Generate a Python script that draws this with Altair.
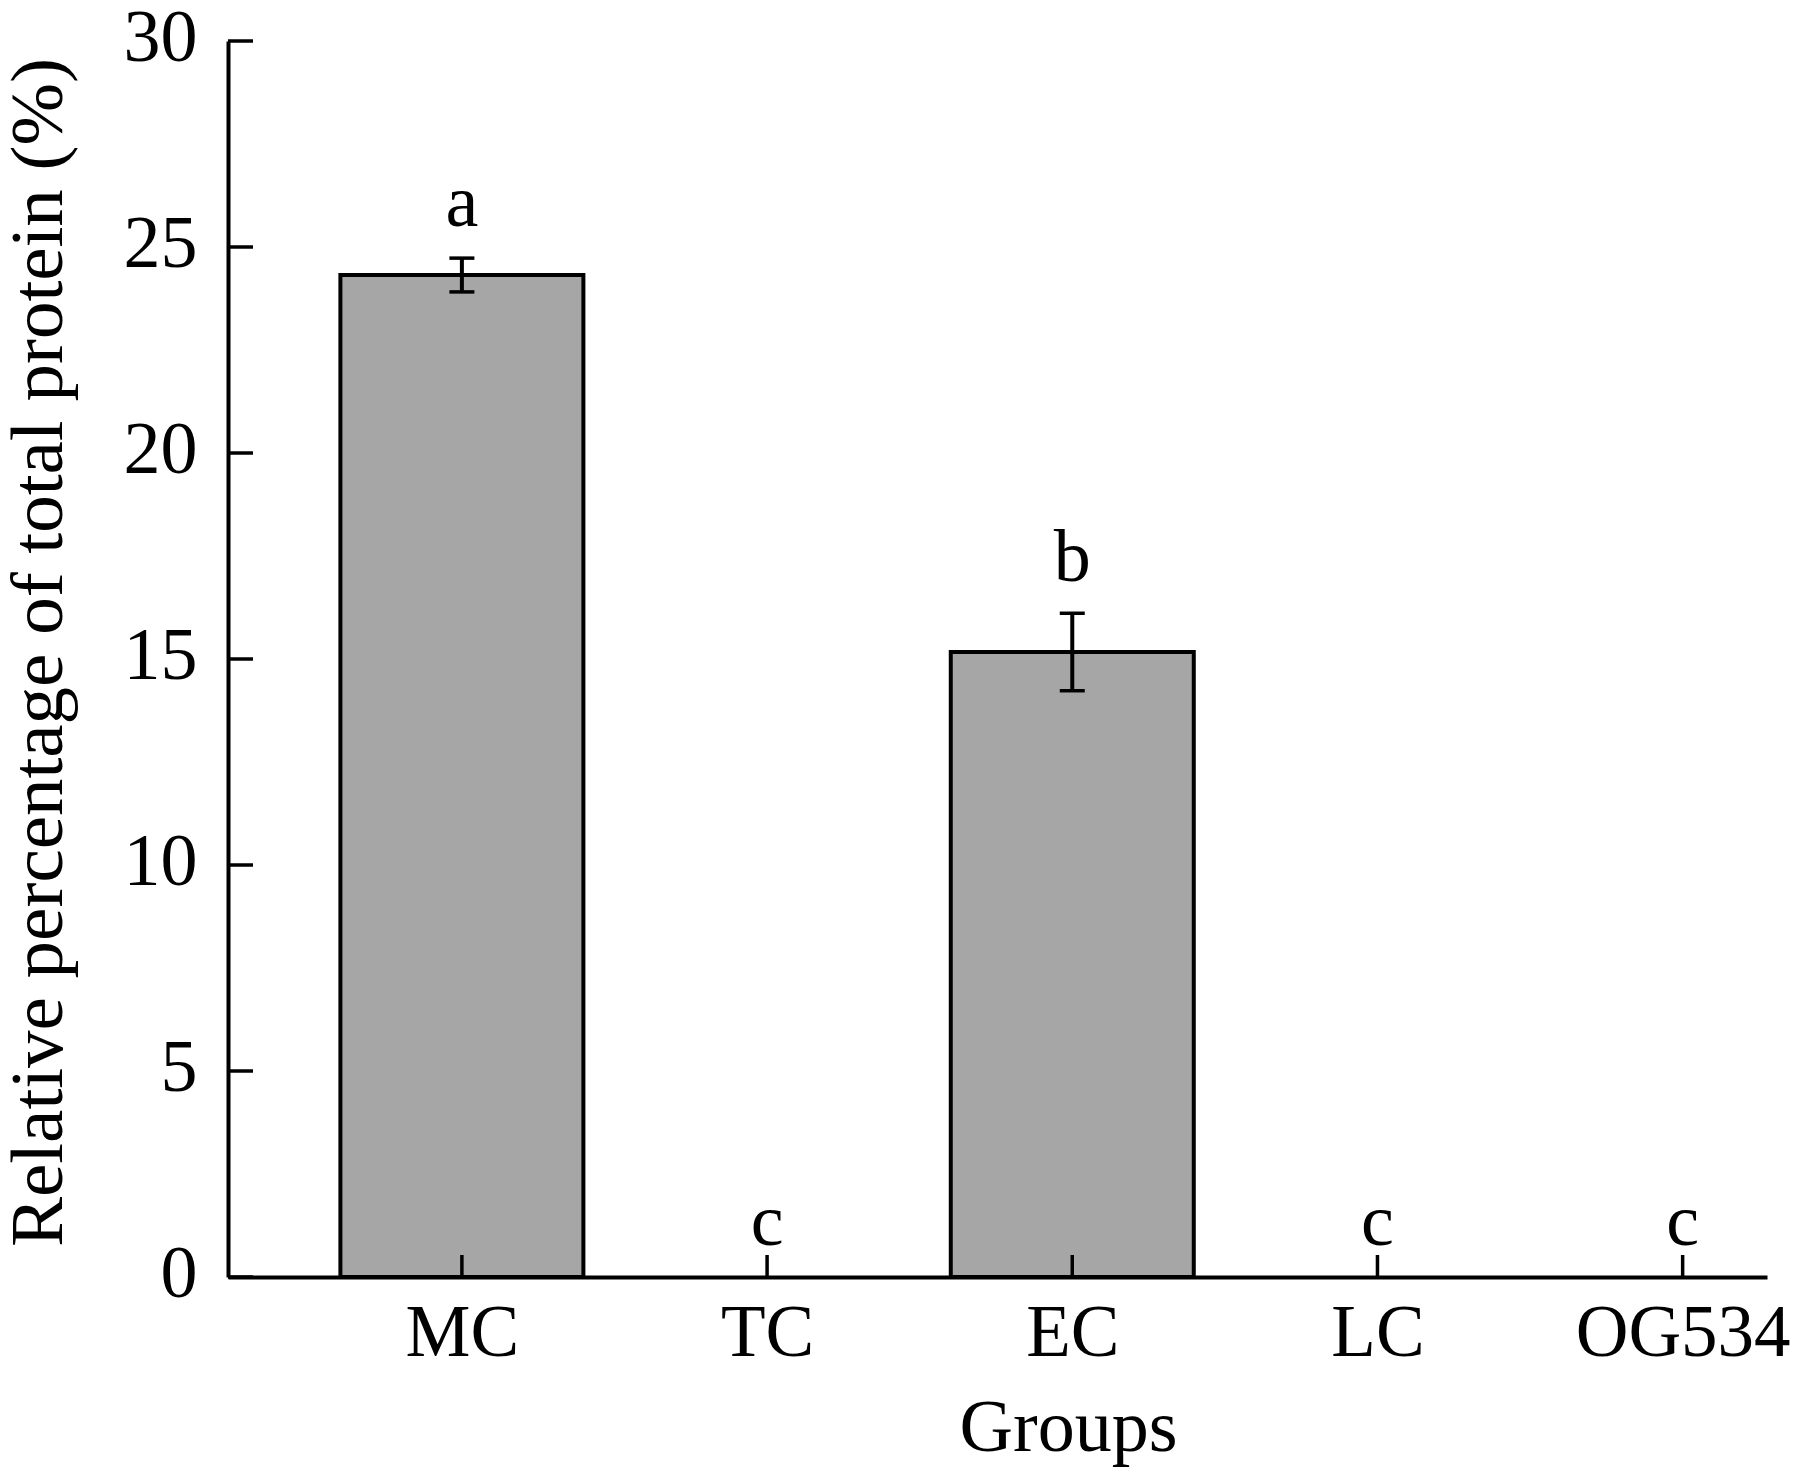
import json
import altair as alt
import pandas as pd

# ---- data ----
groups = ["MC", "TC", "EC", "LC", "OG534"]
means = [24.32, 0.0, 15.17, 0.0, 0.0]
sds = [0.41, 0.0, 0.94, 0.0, 0.0]
letters = ["a", "c", "b", "c", "c"]
y_ticks = [0, 5, 10, 15, 20, 25, 30]

FONT = "Liberation Serif"
FS = 74
W, H = 1539, 1236

df = pd.DataFrame({
    "idx": list(range(1, len(groups) + 1)),
    "group": groups,
    "mean": means,
    "sd": sds,
    "letter": letters,
})
df["lo"] = df["mean"] - df["sd"]
df["hi"] = df["mean"] + df["sd"]
ticks_df = pd.DataFrame({"v": y_ticks})

label_expr = json.dumps(groups) + "[datum.value - 1]"

xscale = alt.Scale(domain=[0.25, 5.26], nice=False, zero=False)
yscale = alt.Scale(domain=[0, 30], nice=False)

xaxis = alt.Axis(
    values=df["idx"].tolist(), labelExpr=label_expr, ticks=False, grid=False,
    labelFont=FONT, labelFontSize=73, labelColor="black", labelLimit=0,
    labelBaseline="alphabetic", labelPadding=78, labelFlush=False, labelOverlap=False,
    domainColor="black", domainWidth=4,
    title="Groups", titleFont=FONT, titleFontSize=FS, titleFontWeight="normal",
    titleColor="black", titleX=840, titleY=173, titleAlign="center",
    titleBaseline="alphabetic", titleAnchor="start", titleLimit=0,
)
yaxis = alt.Axis(
    values=y_ticks, ticks=False, grid=False,
    labelFont=FONT, labelFontSize=FS, labelColor="black", labelLimit=0,
    labelBaseline="alphabetic", labelAlign="right", labelPadding=31, labelOffset=19,
    labelFlush=False, labelOverlap=False,
    domainColor="black", domainWidth=4,
    title="Relative percentage of total protein (%)", titleFont=FONT, titleFontSize=75,
    titleFontWeight="normal", titleColor="black", titleX=-167, titleY=611,
    titleAngle=270, titleAlign="center", titleBaseline="alphabetic", titleAnchor="start",
    titleLimit=0,
)

base = alt.Chart(df)

bars = base.transform_filter("datum.mean > 0").mark_bar(
    size=243, fill="#a6a6a6", stroke="black", strokeWidth=4
).encode(
    x=alt.X("idx:Q", scale=xscale, axis=xaxis),
    y=alt.Y("mean:Q", scale=yscale, axis=yaxis),
)

err = base.transform_filter("datum.sd > 0").mark_rule(color="black", strokeWidth=4).encode(
    x="idx:Q", y="lo:Q", y2="hi:Q"
)
cap_hi = base.transform_filter("datum.sd > 0").mark_rule(
    color="black", strokeWidth=3.5, xOffset=-12.5, x2Offset=12.5
).encode(x="idx:Q", x2="idx:Q", y="hi:Q")
cap_lo = base.transform_filter("datum.sd > 0").mark_rule(
    color="black", strokeWidth=3.5, xOffset=-12.5, x2Offset=12.5
).encode(x="idx:Q", x2="idx:Q", y="lo:Q")

labels = base.mark_text(
    font=FONT, fontSize=FS, color="black", baseline="alphabetic", align="center", dy=-32
).encode(x="idx:Q", y="hi:Q", text="letter:N")

xticks = base.mark_rule(color="black", strokeWidth=3.5, y2Offset=-22).encode(
    x="idx:Q", y=alt.datum(0), y2=alt.datum(0)
)
yticks = alt.Chart(ticks_df).mark_rule(color="black", strokeWidth=3.5).encode(
    y=alt.Y("v:Q", scale=yscale), x=alt.value(0), x2=alt.value(25)
)

chart = alt.layer(bars, err, cap_hi, cap_lo, labels, xticks, yticks).properties(
    width=W, height=H,
    autosize=alt.AutoSizeParams(type="none"),
    padding={"left": 220, "top": 33, "right": 24, "bottom": 190},
    background="white",
).configure_view(stroke=None)

chart.save("out.html", embed_options={"renderer": "svg", "actions": False})
